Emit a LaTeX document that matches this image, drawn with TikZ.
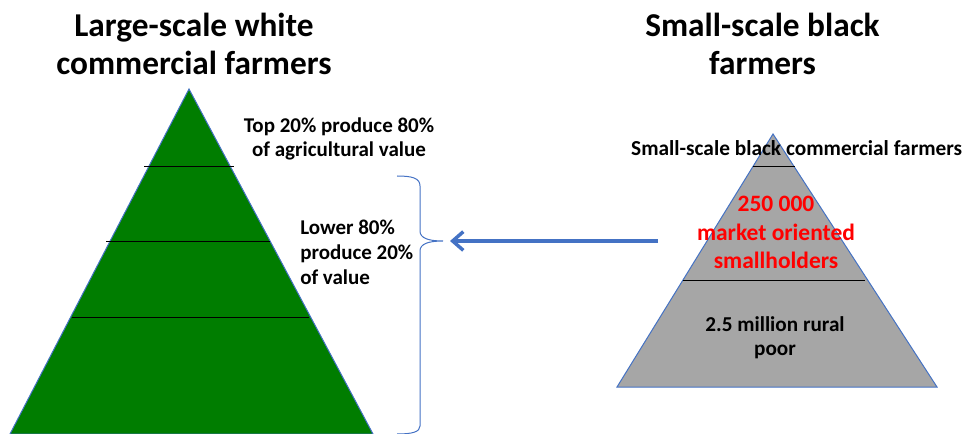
\documentclass[tikz,border=0pt]{standalone}
\usepackage{fontspec}
\setmainfont{Carlito}
\usetikzlibrary{arrows.meta}
\definecolor{pyrgreen}{RGB}{0,125,0}
\definecolor{pyrgray}{RGB}{166,166,166}
\definecolor{edgeblue}{RGB}{68,114,196}
\tikzset{
  tier/.style={black, line width=0.9pt},
  lbl/.style={inner sep=0pt, anchor=base, align=center},
}
\begin{document}
\begin{tikzpicture}[x=0.75pt,y=-0.75pt]
   \useasboundingbox (0,0) rectangle (966,434);
   \clip (0,0) rectangle (966,434);
   \filldraw[fill=pyrgreen, draw=edgeblue, line width=0.75pt] (189,89) -- (373,434) -- (10,434) -- cycle;
   \draw[tier] (144,166.7) -- (234,166.7);
   \draw[tier] (106,241.7) -- (270,241.7);
   \draw[tier] (72,317.3) -- (309,317.3);
   \filldraw[fill=pyrgray, draw=edgeblue, line width=0.75pt] (773,134) -- (937,387) -- (617,387) -- cycle;
   \draw[tier] (753,166.7) -- (795,166.7);
   \draw[tier] (683,280.7) -- (865,280.7);
   \node[lbl, font=\fontsize{25}{28.5}\selectfont\bfseries] (bigtitle) at (194,75) {Large-scale white\\commercial farmers};
   \node[lbl, font=\fontsize{25}{28.5}\selectfont\bfseries] (smalltitle) at (762.5,75) {Small-scale black\\farmers};
   \node[lbl, font=\fontsize{15.75}{18.4}\selectfont\bfseries] (toplbl) at (339,157) {Top 20\% produce 80\%\\of agricultural value};
   \node[lbl, anchor=base west, align=left, font=\fontsize{15.75}{18.8}\selectfont\bfseries] (lowlbl) at (300,285) {Lower 80\%\\produce 20\%\\of value};
   \node[lbl, font=\fontsize{16}{19}\selectfont\bfseries] (commlbl) at (796.7,156) {Small-scale black commercial farmers};
   \node[lbl, red, font=\fontsize{17.6}{21.2}\selectfont\bfseries] (marketlbl) at (776,268.3) {250 000\\market oriented\\smallholders};
   \node[lbl, font=\fontsize{15.9}{18}\selectfont\bfseries] (poorlbl) at (775,355.5) {2.5 million rural\\poor};
   \draw[edgeblue, line width=0.75pt] (397,176) .. controls (412,176) and (420,178) .. (420,186) -- (420,231) .. controls (420,238) and (428,241) .. (443,241) .. controls (428,241) and (420,244) .. (420,251) -- (420,426) .. controls (420,432) and (412,434) .. (397,434);
   \coordinate (from) at (658,241);
   \coordinate (to) at (450,241);
   \draw[edgeblue, line width=2.6pt, -{Straight Barb[length=8pt,width=14pt]}] (from) -- (to);
\end{tikzpicture}
\end{document}
